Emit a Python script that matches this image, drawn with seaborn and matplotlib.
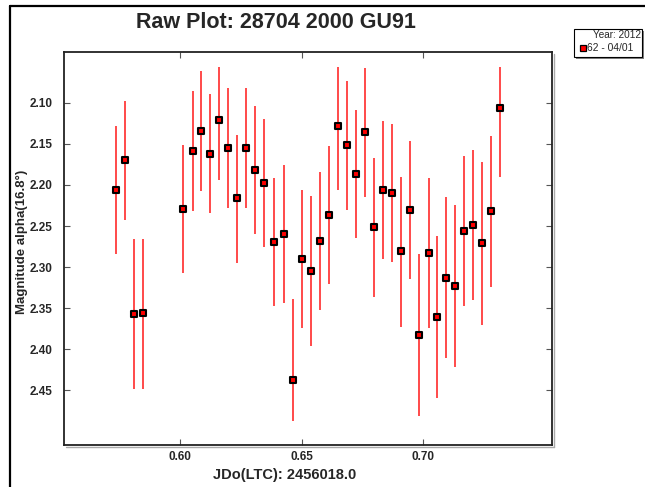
import numpy as np
import pandas as pd
import matplotlib
matplotlib.use("Agg")
import matplotlib.pyplot as plt
from matplotlib.lines import Line2D
from matplotlib.patches import Rectangle
import seaborn as sns

# ---- data ----
jd = [0.57370, 0.57739, 0.58097, 0.58492, 0.60123, 0.60522, 0.60875, 0.61233,
      0.61603, 0.61973, 0.62330, 0.62700, 0.63083, 0.63453, 0.63884, 0.64262,
      0.64632, 0.65014, 0.65384, 0.65754, 0.66136, 0.66494, 0.66864, 0.67246,
      0.67616, 0.67986, 0.68356, 0.68726, 0.69083, 0.69466, 0.69836, 0.70222,
      0.70576, 0.70941, 0.71315, 0.71685, 0.72043, 0.72425, 0.72783, 0.73153]
mag = [2.2062, 2.1701, 2.3570, 2.3562, 2.2297, 2.1584, 2.1344, 2.1620,
       2.1210, 2.1547, 2.2163, 2.1547, 2.1815, 2.1977, 2.2692, 2.2594,
       2.4373, 2.2901, 2.3047, 2.2682, 2.2366, 2.1283, 2.1518, 2.1871,
       2.1356, 2.2509, 2.2058, 2.2099, 2.2808, 2.2305, 2.3826, 2.2825,
       2.3603, 2.3129, 2.3226, 2.2557, 2.2488, 2.2707, 2.2321, 2.1061]
mag_lo = [2.1284, 2.0976, 2.2662, 2.2662, 2.1515, 2.0861, 2.0618, 2.0891,
          2.0562, 2.0825, 2.1393, 2.0825, 2.1040, 2.1198, 2.1912, 2.1758,
          2.3392, 2.2062, 2.2135, 2.1839, 2.1527, 2.0562, 2.0736, 2.1089,
          2.0582, 2.1676, 2.1223, 2.1259, 2.1900, 2.1466, 2.2841, 2.1920,
          2.2618, 2.2144, 2.2245, 2.1648, 2.1575, 2.1718, 2.1406, 2.0562]
mag_hi = [2.2841, 2.2427, 2.4483, 2.4483, 2.3075, 2.2318, 2.2071, 2.2345,
          2.1940, 2.2277, 2.2946, 2.2277, 2.2597, 2.2759, 2.3477, 2.3440,
          2.4872, 2.3745, 2.3960, 2.3522, 2.3209, 2.2062, 2.2305, 2.2650,
          2.2144, 2.3360, 2.2905, 2.2942, 2.3725, 2.3148, 2.4811, 2.3737,
          2.4589, 2.4110, 2.4212, 2.3470, 2.3400, 2.3704, 2.3238, 2.1908]
xticks = [0.60, 0.65, 0.70]
yticks = [2.10, 2.15, 2.20, 2.25, 2.30, 2.35, 2.40, 2.45]
title = "Raw Plot: 28704 2000 GU91"
xlabel = "JDo(LTC): 2456018.0"
ylabel = "Magnitude alpha(16.8°)"
legend_title = "Year: 2012"
legend_label = "62 - 04/01"

df = pd.DataFrame({"jd": jd, "mag": mag, "lo": mag_lo, "hi": mag_hi})

sns.set_style("ticks")
plt.rcParams["font.family"] = ["Liberation Sans", "DejaVu Sans"]

W, H = 645, 487
fig = plt.figure(figsize=(W / 100, H / 100), dpi=100)
ax = fig.add_axes([64 / W, 1 - 445 / H, (552 - 64) / W, (445 - 52) / H])

yerr = np.vstack([df["mag"] - df["lo"], df["hi"] - df["mag"]])
ax.errorbar(df["jd"], df["mag"], yerr=yerr, fmt="none", ecolor="#ff3b3b",
            elinewidth=1.3, capsize=0, zorder=2)
sns.scatterplot(data=df, x="jd", y="mag", marker="s", s=23, color="#ff0000",
                edgecolor="black", linewidth=1.5, ax=ax, zorder=3, legend=False)

ax.set_xlim(0.55232, 0.75290)
ax.set_ylim(2.5164, 2.0383)
ax.set_xticks(xticks)
ax.set_xticklabels([f"{t:.2f}" for t in xticks])
ax.set_yticks(yticks)
ax.set_yticklabels([f"{t:.2f}" for t in yticks])
ax.tick_params(direction="in", length=4, width=0.8, color="#555555",
               top=True, right=True, labelsize=8.5)
ax.tick_params(axis="y", pad=8)
ax.tick_params(axis="x", pad=4)
for lab in ax.get_xticklabels() + ax.get_yticklabels():
    lab.set_fontweight("bold")
for s in ax.spines.values():
    s.set_linewidth(1.3)
    s.set_color("#222222")

ax.set_xlabel(xlabel, fontsize=10.5, fontweight="bold")
ax.xaxis.set_label_coords((285 - 64) / 488, -23 / 393)
ax.set_ylabel(ylabel, fontsize=9.5, fontweight="bold")
ax.yaxis.set_label_coords(-(64 - 28) / 488, (445 - 242) / 393)

# shadow of the axes frame (right and bottom)
fig.add_artist(Line2D([553.5 / W, 553.5 / W], [1 - 446.5 / H, 1 - 54 / H],
                      transform=fig.transFigure, color="#aaaaaa", linewidth=1.0, zorder=0))
fig.add_artist(Line2D([66 / W, 553.5 / W], [1 - 446.5 / H, 1 - 446.5 / H],
                      transform=fig.transFigure, color="#aaaaaa", linewidth=1.0, zorder=0))

fig.text(276 / W, 1 - 23 / H, title, ha="center", va="center",
         fontsize=15.5, fontweight="bold")


def fx(px):
    return px / W


def fy(py):
    return 1 - py / H


# legend box drawn in figure pixels
fig.add_artist(Rectangle((fx(576), fy(59)), fx(642) - fx(574), fy(29) - fy(57),
                         transform=fig.transFigure, facecolor="#808080",
                         edgecolor="none", zorder=5))
fig.add_artist(Rectangle((fx(574), fy(57)), fx(642) - fx(574), fy(29) - fy(57),
                         transform=fig.transFigure, facecolor="white",
                         edgecolor="black", linewidth=0.8, zorder=6))
fig.text(fx(641), fy(35.5), legend_title, ha="right", va="center",
         fontsize=7.2, zorder=7)
fig.add_artist(Line2D([fx(583)], [fy(48)], transform=fig.transFigure,
                      marker="s", markersize=4.5, markerfacecolor="#ff0000",
                      markeredgecolor="black", markeredgewidth=0.9,
                      linestyle="none", zorder=7))
fig.text(fx(587), fy(48), legend_label, ha="left", va="center",
         fontsize=7.4, zorder=7)

# outer frame (left and top lines)
fig.add_artist(Line2D([9.5 / W, 9.5 / W], [0, 1 - 5.5 / H], transform=fig.transFigure,
                      color="black", linewidth=1.6))
fig.add_artist(Line2D([9.5 / W, 1], [1 - 5.5 / H, 1 - 5.5 / H], transform=fig.transFigure,
                      color="black", linewidth=1.6))

fig.savefig("out.png", dpi=100)
